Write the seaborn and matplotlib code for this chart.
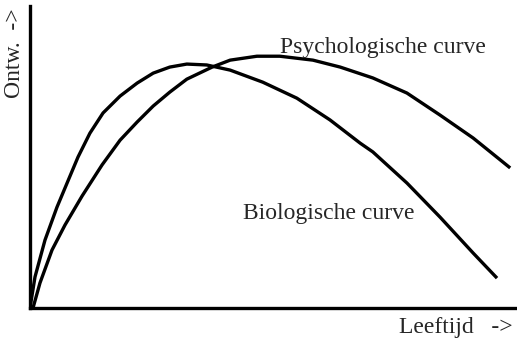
import pandas as pd
import seaborn as sns
import matplotlib.pyplot as plt

# values (age 0-100, development 0-100)
bio_x = [0, 1.03, 3.08, 5.54, 7.8, 9.86, 12.3, 15.0, 18.5, 22.0, 25.3, 28.7, 32.2, 36.3,
         41.1, 47.8, 54.8, 61.6, 67.8, 70.4, 77.4, 84.2, 91.0, 95.9]
bio_y = [0, 10.3, 22.5, 33.4, 42.1, 50.0, 57.9, 64.6, 70.2, 74.5, 77.8, 79.8, 80.8, 80.5,
         78.8, 74.8, 69.5, 62.3, 54.6, 51.7, 41.4, 30.1, 18.2, 9.9]

psy_x = [0.62, 2.05, 4.52, 7.19, 10.7, 14.8, 18.5, 22.0, 25.3, 28.7, 32.2, 37.4,
         41.1, 46.6, 51.3, 58.1, 63.7, 70.4, 77.4, 84.2, 91.0, 98.6]
psy_y = [0, 8.3, 19.2, 27.5, 37.1, 47.4, 55.6, 61.6, 66.9, 71.5, 75.8, 79.8,
         82.1, 83.4, 83.4, 82.1, 79.8, 76.2, 71.2, 63.9, 56.3, 46.4]

df = pd.concat([
    pd.DataFrame({'leeftijd': bio_x, 'ontw': bio_y, 'curve': 'bio'}),
    pd.DataFrame({'leeftijd': psy_x, 'ontw': psy_y, 'curve': 'psy'}),
])

sns.set_style('white')
plt.rcParams['font.family'] = ['Liberation Serif', 'DejaVu Serif']

fig = plt.figure(figsize=(5.17, 3.39), dpi=100)
ax = fig.add_axes([0.058, 0.0914, 0.942, 0.8906])
sns.lineplot(data=df, x='leeftijd', y='ontw', hue='curve', palette=['black', 'black'],
             sort=False, linewidth=2.4, legend=False, ax=ax)
for ln in ax.lines:
    ln.set_solid_joinstyle('round')
    ln.set_solid_capstyle('butt')

ax.set_xlim(0, 100)
ax.set_ylim(0, 100)
ax.set_xticks([])
ax.set_yticks([])
ax.set_xlabel('')
ax.set_ylabel('')
sns.despine(ax=ax)
for s in ['left', 'bottom']:
    ax.spines[s].set_linewidth(2.4)
    ax.spines[s].set_color('black')

ax.text(51.3, 84.4, 'Psychologische curve', fontsize=17, ha='left', va='baseline')
ax.text(43.7, 29.5, 'Biologische curve', fontsize=17, ha='left', va='baseline')
fig.text(0.992, 0.018, 'Leeftijd   ->', fontsize=17, ha='right', va='baseline')
fig.text(0.029, 0.976, 'Ontw.  ->', fontsize=17, ha='center', va='top', rotation=90)

fig.savefig('out.png', dpi=100)
